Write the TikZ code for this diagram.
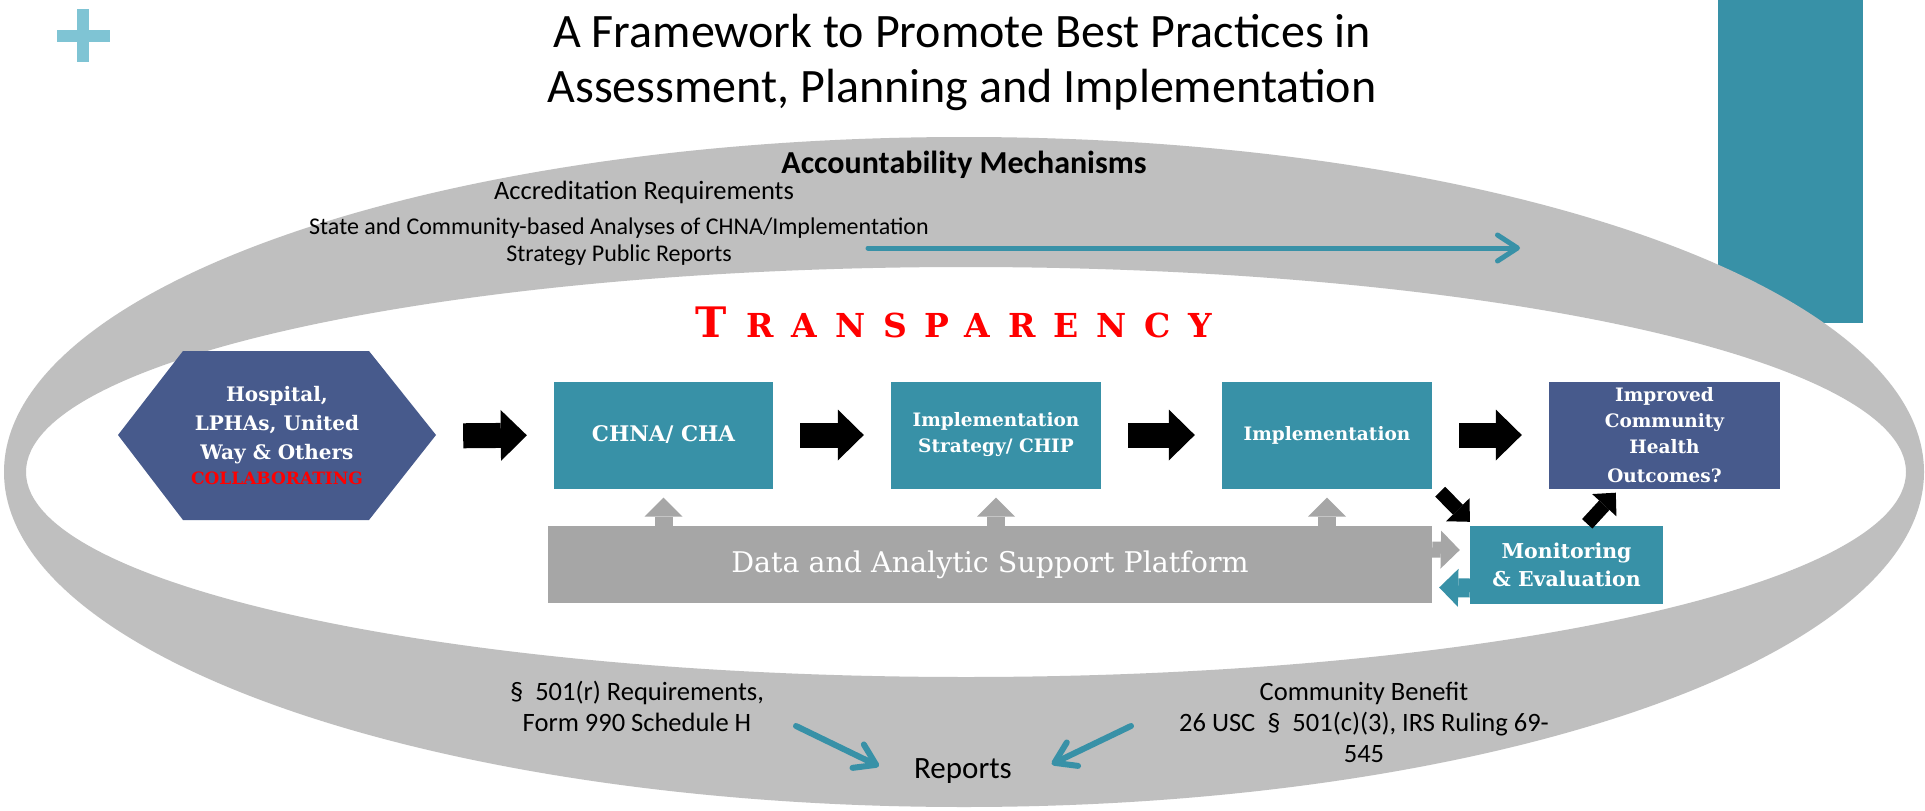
\documentclass[tikz,border=0pt]{standalone}
\usepackage{fontspec}
\setmainfont{Carlito}
\newfontfamily\slab{DejaVu Serif}
\newfontfamily\slabwide[LetterSpace=54]{DejaVu Serif}
\usetikzlibrary{arrows.meta,calc,positioning}

\definecolor{ringgray}{RGB}{191,191,191}
\definecolor{platgray}{RGB}{166,166,166}
\definecolor{tealbox}{RGB}{56,145,167}
\definecolor{navybox}{RGB}{71,90,140}
\definecolor{plusblue}{RGB}{127,196,212}

\tikzset{
  boxtext/.style={text=white, inner sep=0pt, align=center,
    font=\slab\bfseries\fontsize{18.5}{26}\selectfont},
  stepbox/.style={boxtext, fill=tealbox, minimum height=107pt},
  ringtext/.style={inner sep=0pt, align=center, font=\fontsize{26.5}{31}\selectfont},
  blkarrow/.style={line width=25pt, shorten <=27pt, shorten >=27pt,
    -{Triangle[length=26pt,width=51pt,line width=0pt]}},
  diagarrow/.style={line width=14pt, -{Triangle[length=17pt,width=33pt,line width=0pt]}},
  platarrow/.style={draw=platgray, -{Triangle[length=19pt,width=38pt,line width=0pt]}},
  thinarrow/.style={draw=tealbox, line width=5pt, line cap=round,
    -{Straight Barb[length=20pt,width=26pt,round]}},
}

\begin{document}
\begin{tikzpicture}[x=1pt, y=-1pt]
  \path[use as bounding box, fill=white] (0,0) rectangle (1925,811);
  % corner marks
  \fill[plusblue] (77,9) rectangle (89,62);
  \fill[plusblue] (57,30) rectangle (110,42);
  \fill[tealbox] (1718,0) rectangle (1863,323);
  % accountability ring
  \fill[ringgray, even odd rule] (964,472) ellipse [x radius=960, y radius=335]
    (966,472) ellipse [x radius=940, y radius=205];

  \node[align=center, inner sep=0pt, font=\fontsize{48}{55}\selectfont, anchor=base] (title) at (962,102)
    {A Framework to Promote Best Practices in\\Assessment, Planning and Implementation};

  % texts in the ring
  \node[inner sep=0pt, font=\bfseries\fontsize{32}{36}\selectfont, anchor=base] (acct) at (964,173) {Accountability Mechanisms};
  \node[ringtext, anchor=base] (accred) at (644,199) {Accreditation Requirements};
  \node[ringtext, font=\fontsize{24}{27}\selectfont, anchor=base] (analyses) at (619,261)
    {State and Community-based Analyses of CHNA/Implementation\\Strategy Public Reports};
  \node[ringtext, anchor=base] (irs) at (637,731) {§~~501(r) Requirements,\\Form 990 Schedule H};
  \node[ringtext, anchor=base] (benefit) at (1364,762) {Community Benefit\\26 USC~~§~~501(c)(3), IRS Ruling 69-\\545};
  \node[inner sep=0pt, font=\fontsize{31}{36}\selectfont, anchor=base] (reports) at (963,778) {Reports};

  \node[anchor=base west, inner sep=0pt, text=red, font=\slabwide\bfseries] (transp) at (695,337)
    {\fontsize{42}{42}\selectfont T\hspace{20pt}\fontsize{33}{33}\selectfont RANSPARENCY};

  % the chain of steps
  \fill[navybox] (118,435) -- (183,351) -- (369,351) -- (436,435) -- (369,520) -- (183,520) -- cycle;
  \node[boxtext, minimum width=318pt, minimum height=169pt, font=\slab\bfseries\fontsize{20}{29}\selectfont] (hex) at (277,436)
    {Hospital,\\LPHAs, United\\Way \& Others\\[-4pt]{\color{red}\fontsize{17}{20}\selectfont COLLABORATING}};
  \node[stepbox, minimum width=219pt, font=\slab\bfseries\fontsize{21.5}{26}\selectfont] (chna) at (663.5,435) {CHNA/ CHA};
  \node[stepbox, minimum width=210pt] (strat) at (996,435) {Implementation\\Strategy/ CHIP};
  \node[stepbox, minimum width=210pt] (impl) at (1327,435) {Implementation};
  \node[boxtext, fill=navybox, minimum width=231pt, minimum height=107pt] (outc) at (1664.5,435)
    {Improved\\Community\\Health\\[3pt]Outcomes?};
  \node[fill=platgray, minimum width=884pt, minimum height=77pt, inner sep=0pt, text=white,
    font=\slab\fontsize{28.5}{32}\selectfont] (plat) at (990,564.5) {Data and Analytic Support Platform};
  \node[stepbox, minimum width=193pt, minimum height=78pt, font=\slab\bfseries\fontsize{20.5}{28}\selectfont] (mon) at (1566.5,565)
    {Monitoring\\\& Evaluation};

  \draw[blkarrow] (hex.east) -- (chna.west);
  \draw[blkarrow] (chna.east) -- (strat.west);
  \draw[blkarrow] (strat.east) -- (impl.west);
  \draw[blkarrow] (impl.east) -- (outc.west);
  \draw[diagarrow] ($(impl.south east)+(8,3)$) -- ($(mon.north west)+(0,-4)$);
  \draw[diagarrow] ($(mon.north east)+(-76,-2)$) -- ($(outc.south west)+(67,4)$);

  \draw[platarrow, line width=18pt] (chna.south |- plat.north) -- ($(chna.south)+(0,9)$);
  \draw[platarrow, line width=18pt] (strat.south |- plat.north) -- ($(strat.south)+(0,9)$);
  \draw[platarrow, line width=18pt] (impl.south |- plat.north) -- ($(impl.south)+(0,9)$);
  \draw[platarrow, line width=16pt] ($(plat.east)+(0,-15)$) -- ($(mon.west)+(-10,-15)$);
  \draw[platarrow, draw=tealbox, line width=19pt] ($(mon.west)+(0,23)$) -- ($(plat.east)+(7,23)$);

  % report arrows
  \coordinate (pub from) at (868,248);
  \coordinate (pub to) at (1520,248);
  \draw[thinarrow] (pub from) -- (pub to);
  \coordinate (irs from) at (796,726);
  \coordinate (benefit from) at (1131,726);
  \draw[thinarrow, line width=6pt, shorten >=39pt] (irs from) -- (reports.south west);
  \draw[thinarrow, line width=6pt, shorten >=44pt] (benefit from) -- (reports.south east);
\end{tikzpicture}
\end{document}
